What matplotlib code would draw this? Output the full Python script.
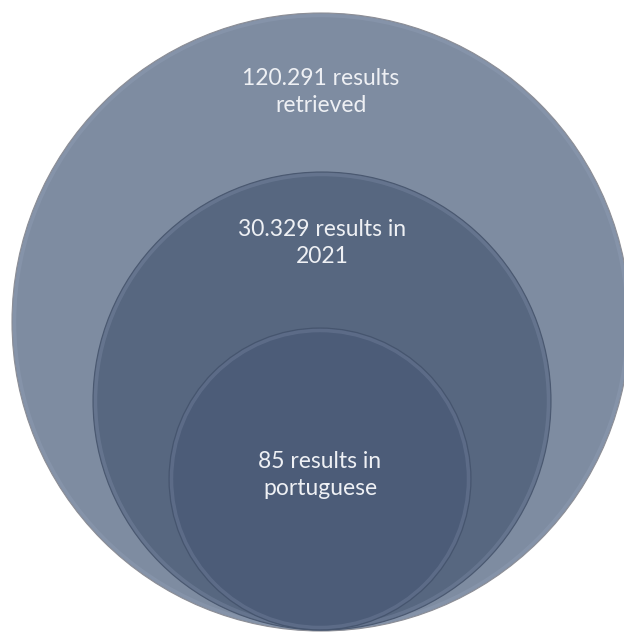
import matplotlib.pyplot as plt
from matplotlib.patches import Circle

# dados
counts = [120291, 30329, 85]
label_tails = ["results\nretrieved", "results in\n2021", "results in\nportuguese"]

# layout (pixels): centro x, centro y, raio, y do texto
centers_x = [321, 322, 320]
centers_y = [322, 401, 479]
radii = [309, 229, 151]
text_y = [92, 243, 475]
fills = ["#7e8ca1", "#576780", "#4c5c78"]
edges = ["#8c8e96", "#4a5870", "#46556e"]

fig = plt.figure(figsize=(6.24, 6.33), dpi=100)
ax = fig.add_axes([0, 0, 1, 1])
ax.set_xlim(0, 624)
ax.set_ylim(633, 0)
ax.set_aspect("equal")
ax.axis("off")

for i in range(len(counts)):
    c = Circle((centers_x[i], centers_y[i]), radii[i], facecolor=fills[i],
               edgecolor=edges[i], linewidth=0.8, zorder=i + 1)
    ax.add_patch(c)
    # leve brilho na borda
    rim = Circle((centers_x[i], centers_y[i]), radii[i] - 2.5, facecolor="none",
                 edgecolor="#a8b4d0", alpha=0.18, linewidth=2.5, zorder=i + 1)
    ax.add_patch(rim)
    num = f"{counts[i]:,}".replace(",", ".")
    first, second = label_tails[i].split("\n")
    ax.text(centers_x[i], text_y[i], f"{num} {first}\n{second}", ha="center", va="center",
            color="#eef0f4", fontsize=16.5, family=["Lato", "DejaVu Sans"],
            linespacing=1.4, zorder=10)

fig.savefig("out.png", dpi=100)
